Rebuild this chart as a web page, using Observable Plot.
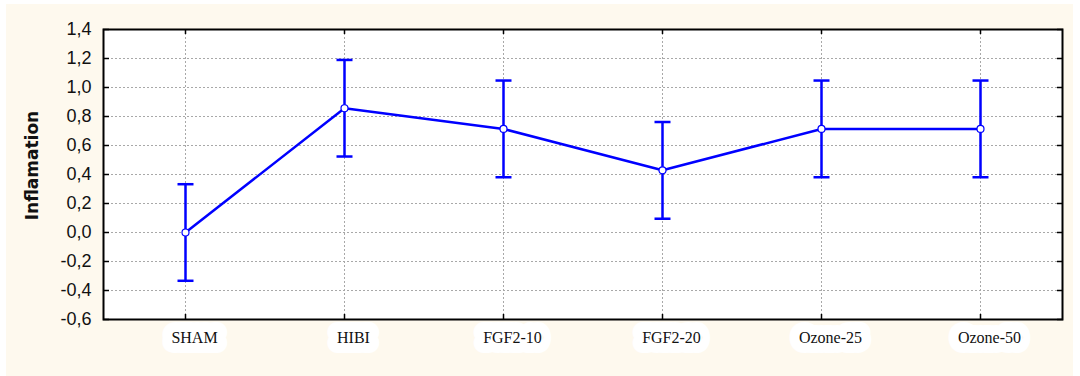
<!DOCTYPE html>
<html>
<head>
<meta charset="utf-8">
<script src="https://cdn.jsdelivr.net/npm/d3@7"></script>
<script src="https://cdn.jsdelivr.net/npm/@observablehq/plot@0.6"></script>
<style>
  html, body { margin: 0; padding: 0; background: #ffffff; }
  #bg { position: absolute; left: 6px; top: 4px; width: 1067px; height: 372px; background: #fef9ee; }
  #chart { position: absolute; left: 0; top: 0; }
</style>
</head>
<body>
<div id="bg"></div>
<div id="chart"></div>
<script>
const categories = ["SHAM", "HIBI", "FGF2-10", "FGF2-20", "Ozone-25", "Ozone-50"];
const means = [0.0, 0.857, 0.714, 0.429, 0.714, 0.714];
const lower = [-0.333, 0.524, 0.381, 0.095, 0.381, 0.381];
const upper = [0.333, 1.190, 1.048, 0.762, 1.048, 1.048];
const yTicks = [-0.6, -0.4, -0.2, 0.0, 0.2, 0.4, 0.6, 0.8, 1.0, 1.2, 1.4];
const yLabel = "Inflamation";

const data = categories.map((c, i) => ({cat: c, mean: means[i], lo: lower[i], hi: upper[i]}));
const fmt = v => (v < -1e-9 ? "-" : "") + Math.abs(v).toFixed(1).replace(".", ",");
const blue = "#0000ff";
const capSymbol = {
  draw(ctx, size) {
    const w = Math.sqrt(size / Math.PI);
    ctx.moveTo(-w, 0);
    ctx.lineTo(w, 0);
  }
};

const plot = Plot.plot({
  width: 1080,
  height: 376,
  marginTop: 29,
  marginBottom: 57,
  marginLeft: 103,
  marginRight: 18,
  style: {background: "transparent", fontFamily: "Liberation Sans, Arial, sans-serif"},
  x: {type: "point", domain: categories, padding: 0.5, axis: null},
  y: {domain: [-0.6, 1.4], axis: null},
  marks: [
    Plot.frame({fill: "white", stroke: null}),
    Plot.gridY(yTicks, {stroke: "#a8a8a8", strokeOpacity: 1, strokeDasharray: "2,2"}),
    Plot.gridX(categories, {stroke: "#a8a8a8", strokeOpacity: 1, strokeDasharray: "2,2"}),
    // inward ticks
    Plot.axisY(yTicks, {anchor: "left", tickSize: 6, dx: 6, text: null, label: null, strokeWidth: 1.5, stroke: "black"}),
    Plot.axisY(yTicks, {anchor: "right", tickSize: 6, dx: -6, text: null, label: null, strokeWidth: 1.5, stroke: "black"}),
    Plot.axisX(categories, {anchor: "bottom", tickSize: 5, dy: -5, text: null, label: null, strokeWidth: 1.5, stroke: "black"}),
    Plot.axisX(categories, {anchor: "top", tickSize: 4, dy: 4, text: null, label: null, strokeWidth: 1.5, stroke: "black"}),
    // y tick labels
    Plot.text(yTicks, {y: d => d, frameAnchor: "left", textAnchor: "end", dx: -12, text: fmt,
      fontSize: 18, fill: "#111", fontFamily: "Liberation Sans, Arial, sans-serif"}),
    // y label
    Plot.text([yLabel], {frameAnchor: "left", textAnchor: "middle", rotate: -90, dx: -71, dy: -9, text: d => d,
      fontSize: 17, fontWeight: "bold", fill: "#111", fontFamily: "DejaVu Sans, Verdana, sans-serif"}),
    // x labels with white patches
    Plot.text(categories, {x: d => d, frameAnchor: "bottom", dy: 23, dx: 9, text: d => d,
      fontSize: 16, fill: "#111", stroke: "white", strokeWidth: 20, strokeLinejoin: "round",
      paintOrder: "stroke", fontFamily: "Liberation Serif, Times New Roman, serif"}),
    Plot.frame({stroke: "black", strokeWidth: 2, fill: null}),
    // error bars
    Plot.ruleX(data, {x: "cat", y1: "lo", y2: "hi", stroke: blue, strokeWidth: 2.5}),
    Plot.dot(data, {x: "cat", y: "hi", symbol: capSymbol, r: 8, fill: "none", stroke: blue, strokeWidth: 2.5}),
    Plot.dot(data, {x: "cat", y: "lo", symbol: capSymbol, r: 8, fill: "none", stroke: blue, strokeWidth: 2.5}),
    Plot.line(data, {x: "cat", y: "mean", stroke: blue, strokeWidth: 2.5}),
    Plot.dot(data, {x: "cat", y: "mean", r: 3.5, fill: "white", stroke: blue, strokeWidth: 1.2})
  ]
});
document.getElementById("chart").appendChild(plot);
</script>
</body>
</html>
